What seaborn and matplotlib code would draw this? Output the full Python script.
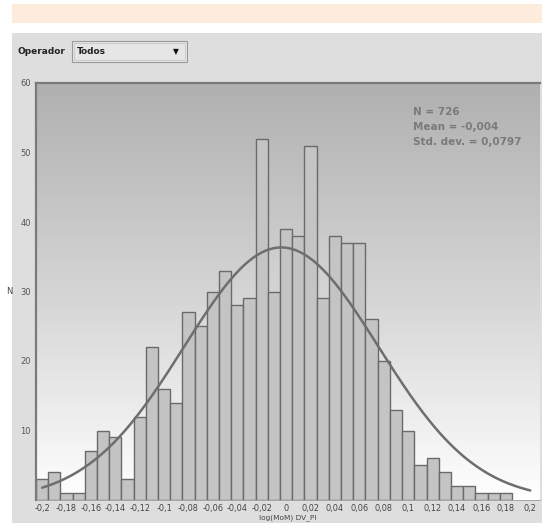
import numpy as np
import pandas as pd
import matplotlib
matplotlib.use("Agg")
import matplotlib.pyplot as plt
from matplotlib.patches import Rectangle
from matplotlib.ticker import FuncFormatter, FixedLocator
from matplotlib.colors import LinearSegmentedColormap
import seaborn as sns

# Histogram of log(MoM) DV_PI, bins of width 0.01 centred on the ticks
bin_centers = [-0.20, -0.19, -0.18, -0.17, -0.16, -0.15, -0.14, -0.13, -0.12, -0.11,
               -0.10, -0.09, -0.08, -0.07, -0.06, -0.05, -0.04, -0.03, -0.02, -0.01,
               0.00, 0.01, 0.02, 0.03, 0.04, 0.05, 0.06, 0.07, 0.08, 0.09,
               0.10, 0.11, 0.12, 0.13, 0.14, 0.15, 0.16, 0.17, 0.18]
counts = [3, 4, 1, 1, 7, 10, 9, 3, 12, 22,
          16, 14, 27, 25, 30, 33, 28, 29, 52, 30,
          39, 38, 51, 29, 38, 37, 37, 26, 20, 13,
          10, 5, 6, 4, 2, 2, 1, 1, 1]
bin_width = 0.01

# Summary statistics shown in the panel
n_obs = 726
mean_val = -0.004
std_val = 0.0797

x_ticks = [-0.20, -0.18, -0.16, -0.14, -0.12, -0.10, -0.08, -0.06, -0.04, -0.02,
           0.00, 0.02, 0.04, 0.06, 0.08, 0.10, 0.12, 0.14, 0.16, 0.18, 0.20]
y_ticks = [10, 20, 30, 40, 50, 60]

sns.set_theme(style="white")
plt.rcParams["font.family"] = ["DejaVu Sans"]

W, H = 542, 523
fig = plt.figure(figsize=(W / 100, H / 100), dpi=100)
fig.patch.set_facecolor("white")

# Page decoration: banner and the grey control panel
fig.add_artist(Rectangle((12 / W, 1 - 23 / H), 1, 19 / H, transform=fig.transFigure,
                         facecolor="#fdebdc", edgecolor="none", zorder=0))
fig.add_artist(Rectangle((12 / W, 0), 1, 1 - 33 / H, transform=fig.transFigure,
                         facecolor="#dedede", edgecolor="none", zorder=0))

# Operator selector
fig.text(17 / W, 1 - 52 / H, "Operador", fontsize=6.5, fontweight="bold",
         color="#222222", va="center", ha="left")
fig.add_artist(Rectangle((72 / W, 1 - 62 / H), 115 / W, 21 / H, transform=fig.transFigure,
                         facecolor="#e6e6e6", edgecolor="#9a9a9a", linewidth=0.8, zorder=1))
fig.add_artist(Rectangle((74 / W, 1 - 60 / H), 111 / W, 17 / H, transform=fig.transFigure,
                         facecolor="none", edgecolor="#c8c8c8", linewidth=0.6, zorder=1))
fig.text(77 / W, 1 - 52 / H, "Todos", fontsize=6.5, fontweight="bold",
         color="#222222", va="center", ha="left")
fig.text(176 / W, 1 - 52 / H, "\u25BC", fontsize=5.5, color="#111111",
         va="center", ha="center")

# Chart area
left, right, top, bottom = 36, 540, 83, 500
ax = fig.add_axes([left / W, 1 - bottom / H, (right - left) / W, (bottom - top) / H])
xmin, xmax = -0.205, 0.208
ymin, ymax = 0, 60

# Vertical grey gradient behind the bars
grad = np.linspace(0, 1, 256).reshape(-1, 1)
cmap = LinearSegmentedColormap.from_list("bg", ["#b0b0b0", "#d4d4d4", "#ffffff"])
ax.imshow(grad, extent=[xmin, xmax, ymin, ymax], aspect="auto", cmap=cmap,
          origin="upper", zorder=0)

hist_df = pd.DataFrame({"value": bin_centers, "count": counts})
sns.histplot(data=hist_df, x="value", weights="count", binwidth=bin_width,
             binrange=(bin_centers[0] - bin_width / 2, bin_centers[-1] + bin_width / 2),
             ax=ax, color="#c4c4c4", edgecolor="#6a6a6a", linewidth=1.0, alpha=1.0,
             zorder=2)

# Normal curve from the stated mean and standard deviation
xs = np.linspace(-0.2, 0.2, 400)
ys = n_obs * bin_width / (std_val * np.sqrt(2 * np.pi)) * np.exp(-0.5 * ((xs - mean_val) / std_val) ** 2)
sns.lineplot(x=xs, y=ys, ax=ax, color="#6e6e6e", linewidth=1.8, zorder=3)

ax.set_xlim(xmin, xmax)
ax.set_ylim(ymin, ymax)


def comma_fmt(v, _pos=None):
    v = round(v, 2)
    if abs(v) < 1e-9:
        return "0"
    s = f"{v:.2f}".rstrip("0").rstrip(".")
    return s.replace(".", ",")


ax.xaxis.set_major_locator(FixedLocator(x_ticks))
ax.xaxis.set_major_formatter(FuncFormatter(comma_fmt))
ax.yaxis.set_major_locator(FixedLocator(y_ticks))
ax.tick_params(axis="both", which="major", labelsize=6, length=2.5, width=0.7,
               direction="out", pad=1.2, colors="#777777")
ax.tick_params(axis="x", labelcolor="#444444", length=2, pad=0.6, labelsize=5.9)
ax.tick_params(axis="y", labelcolor="#555555")

for side in ["left", "top"]:
    ax.spines[side].set_visible(True)
    ax.spines[side].set_color("#7a7a7a")
    ax.spines[side].set_linewidth(1.6)
ax.spines["right"].set_visible(False)
ax.spines["bottom"].set_visible(True)
ax.spines["bottom"].set_color("#9a9a9a")
ax.spines["bottom"].set_linewidth(0.6)

ax.set_ylabel("N", fontsize=6, color="#444444", rotation=0, labelpad=8, va="center")
ax.set_xlabel("")
fig.text((left + right) / 2 / W, 1 - 518 / H, "log(MoM) DV_PI", fontsize=5.3,
         color="#444444", ha="center", va="center")

stats = [f"N = {n_obs}",
         "Mean = " + f"{mean_val:.3f}".replace(".", ","),
         "Std. dev. = " + f"{std_val:.4f}".replace(".", ",")]
for i, line in enumerate(stats):
    fig.text(413 / W, 1 - (112 + 15 * i) / H, line, fontsize=7.5, fontweight="bold",
             color="#7a7a7a", va="center", ha="left")

fig.savefig("out.png", dpi=100)
